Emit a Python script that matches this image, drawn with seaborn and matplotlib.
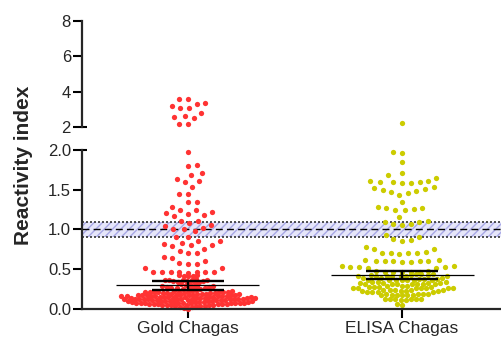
import matplotlib
matplotlib.use("Agg")
import matplotlib.pyplot as plt
from matplotlib.path import Path
from matplotlib.transforms import Affine2D
import pandas as pd
import seaborn as sns

groups = ["Gold Chagas", "ELISA Chagas"]
colors = ["#FF3333", "#CCCC00"]

# reactivity index of each sample
gold_values = [
    3.59, 3.59, 3.36, 3.29, 3.20, 3.05, 3.05, 2.80, 2.62, 2.54, 2.50, 2.17, 2.17,
    1.97, 1.81, 1.80, 1.71, 1.68, 1.64, 1.61, 1.60, 1.54, 1.45, 1.45, 1.35, 1.34, 1.28,
    1.24, 1.24, 1.22, 1.21, 1.19, 1.18, 1.17,
    1.11, 1.11, 1.08, 1.06, 1.05, 1.02, 1.00, 1.00, 0.98,
    0.91, 0.90, 0.86, 0.85, 0.83, 0.82, 0.81, 0.80, 0.79,
    0.76, 0.73, 0.71, 0.70, 0.65, 0.64, 0.61, 0.58, 0.57, 0.56, 0.51, 0.51,
    0.47, 0.46, 0.46, 0.47, 0.45, 0.46, 0.47, 0.46,
    0.43, 0.42, 0.43, 0.41, 0.42,
    0.38, 0.37, 0.36, 0.35, 0.36, 0.34, 0.37, 0.35, 0.33, 0.36, 0.34, 0.32, 0.35, 0.31,
    0.30, 0.29, 0.28, 0.27, 0.29, 0.26, 0.28, 0.25, 0.27, 0.29, 0.24, 0.26, 0.28, 0.25,
    0.23, 0.22, 0.21, 0.20, 0.19, 0.18, 0.22, 0.21, 0.20, 0.19, 0.23, 0.18, 0.21, 0.20,
    0.22, 0.19, 0.18, 0.21, 0.20, 0.23, 0.19, 0.20, 0.22, 0.18, 0.21, 0.19,
    0.17, 0.16, 0.15, 0.14, 0.13, 0.17, 0.16, 0.15, 0.14, 0.13, 0.16, 0.15, 0.17, 0.14,
    0.13, 0.16, 0.15, 0.14, 0.17, 0.13, 0.15, 0.16, 0.14, 0.15, 0.13, 0.16, 0.14, 0.17,
    0.15, 0.14, 0.16, 0.13,
    0.12, 0.11, 0.10, 0.09, 0.08, 0.12, 0.11, 0.10, 0.09, 0.08, 0.11, 0.10, 0.12, 0.09,
    0.08, 0.11, 0.10, 0.09, 0.12, 0.08, 0.10, 0.11, 0.09, 0.10, 0.12, 0.08, 0.09, 0.11,
    0.10, 0.12,
    0.07, 0.06, 0.05, 0.04, 0.07, 0.06, 0.05, 0.04, 0.06, 0.05, 0.07, 0.04, 0.06, 0.05,
    0.07, 0.05, 0.06, 0.04, 0.07, 0.06, 0.05, 0.03,
    0.02, 0.01, 0.00,
]
elisa_values = [
    2.23,
    1.97, 1.96, 1.85, 1.71, 1.68, 1.65,
    1.61, 1.60, 1.60, 1.59, 1.60, 1.61, 1.59,
    1.52, 1.50, 1.47, 1.44, 1.46, 1.49, 1.51, 1.53,
    1.34, 1.28, 1.27, 1.25, 1.26, 1.24, 1.27,
    1.16, 1.10, 1.07, 1.06, 1.07, 1.09, 1.11,
    0.93, 0.90, 0.87, 0.88, 0.86, 0.78,
    0.76, 0.75, 0.71, 0.70, 0.72, 0.70, 0.71, 0.69,
    0.62, 0.61, 0.60, 0.61, 0.59, 0.60, 0.62, 0.61, 0.59,
    0.54, 0.53, 0.52, 0.54, 0.53, 0.52, 0.53,
    0.48, 0.47, 0.46, 0.47, 0.48, 0.46, 0.47,
    0.44, 0.43, 0.42, 0.41, 0.43, 0.42, 0.44, 0.41, 0.42, 0.43, 0.41, 0.42, 0.44,
    0.39, 0.38, 0.37, 0.36, 0.38, 0.37, 0.39, 0.36, 0.37, 0.38, 0.36, 0.39, 0.37,
    0.34, 0.33, 0.32, 0.31, 0.33, 0.32, 0.34, 0.31, 0.32, 0.33, 0.31, 0.34, 0.32, 0.33,
    0.29, 0.28, 0.27, 0.26, 0.28, 0.27, 0.29, 0.26, 0.27, 0.28, 0.26, 0.29, 0.27, 0.28,
    0.24, 0.23, 0.22, 0.24, 0.23, 0.22, 0.24, 0.23, 0.22, 0.24, 0.23, 0.22, 0.24,
    0.19, 0.18, 0.17, 0.19, 0.18, 0.17, 0.19, 0.18, 0.17, 0.19,
    0.13, 0.12, 0.11, 0.13, 0.12, 0.11, 0.12, 0.13,
    0.06, 0.05,
]

# mean and SEM as drawn on the chart
mean_vals = [0.30, 0.43]
sem_vals = [0.058, 0.052]

grey_zone = [0.9, 1.1]
cutoff = 1.0

# below these values the dots are packed tightly, above they are spread out
dense_below = [0.44, 0.45]
dense_spacing = [3.0, 3.6]
sparse_spacing = 6.0
dot_size = 3.8

sns.set_style("ticks")
plt.rcParams["font.family"] = ["Liberation Sans", "DejaVu Sans"]

fig = plt.figure(figsize=(5.01, 3.37), dpi=100)
ax_lo = fig.add_axes([0.1637, 0.0831, 0.8363, 0.4718])
ax_hi = fig.add_axes([0.1637, 0.6231, 0.8363, 0.3154])
ax_hi.patch.set_alpha(0)


def swarm(ax, values, pos, spacing):
    if not values:
        return
    sub = pd.DataFrame({"group": [groups[pos]] * len(values), "value": values})
    n0 = len(ax.collections)
    sns.swarmplot(data=sub, x="group", y="value", order=groups, color=colors[pos],
                  size=spacing, linewidth=0, ax=ax, zorder=2)
    # swarm is laid out with `spacing`, dots are drawn at dot_size
    circle = Path.unit_circle().transformed(Affine2D().scale(0.5 * dot_size / spacing))
    for c in ax.collections[n0:]:
        c.set_clip_on(False)
        c.set_paths([circle])


# grey zone around the cut-off
ax_lo.axhspan(grey_zone[0], grey_zone[1], facecolor="#E6E6FA", edgecolor="#A8A8E6",
              hatch="////", linewidth=0, zorder=0)
for y in grey_zone:
    ax_lo.axhline(y, color="#333333", lw=1.2, ls=(0, (1.2, 1.2)), zorder=1)
ax_lo.axhline(cutoff, color="black", lw=1.0, ls=(0, (5, 3)), zorder=1)

for i, vals in enumerate([gold_values, elisa_values]):
    dense = [v for v in vals if v < dense_below[i]]
    sparse = [v for v in vals if dense_below[i] <= v <= 2.0]
    top = [v for v in vals if v > 2.0]
    swarm(ax_lo, dense, i, dense_spacing[i])
    swarm(ax_lo, sparse, i, sparse_spacing)
    swarm(ax_hi, top, i, sparse_spacing)

# mean line and SEM bars
for i, (m, s) in enumerate(zip(mean_vals, sem_vals)):
    ax_lo.hlines(m, i - 0.334, i + 0.334, color="black", lw=0.9, zorder=3)
    ax_lo.hlines([m - s, m + s], i - 0.17, i + 0.17, color="black", lw=1.7, zorder=3)
    ax_lo.vlines(i, m - s, m + s, color="black", lw=1.7, zorder=3)

xlim = (-0.495, 1.462)
ax_lo.set_xlim(xlim)
ax_lo.set_ylim(0, 2.0)
ax_lo.set_yticks([0, 0.5, 1.0, 1.5, 2.0])
ax_lo.set_yticklabels(["0.0", "0.5", "1.0", "1.5", "2.0"])
ax_lo.set_xticks([0, 1])
ax_lo.set_xticklabels(groups)
ax_lo.set_xlabel("")
ax_lo.set_ylabel("")

ax_hi.set_xlim(xlim)
ax_hi.set_ylim(2, 8)
ax_hi.set_yticks([2, 4, 6, 8])
ax_hi.set_yticklabels(["2", "4", "6", "8"])
ax_hi.set_xlabel("")
ax_hi.set_ylabel("")
ax_hi.set_xticks([])

for ax in (ax_lo, ax_hi):
    for side in ("top", "right"):
        ax.spines[side].set_visible(False)
    ax.spines["left"].set_linewidth(1.6)
    ax.spines["bottom"].set_linewidth(1.6)
    ax.tick_params(axis="both", length=6.5, width=1.5, labelsize=12, pad=1.5, color="black")
ax_hi.spines["bottom"].set_visible(False)
ax_lo.tick_params(axis="x", pad=2, labelsize=12.5)

# break marks on the axis
ax_hi.plot([0, 0.012], [2, 2], transform=ax_hi.get_yaxis_transform(), color="black",
           lw=1.5, clip_on=False, solid_capstyle="butt")
ax_lo.plot([0, 0.012], [2.0, 2.0], transform=ax_lo.get_yaxis_transform(), color="black",
           lw=1.5, clip_on=False, solid_capstyle="butt")

fig.text(0.046, 0.51, "Reactivity index", rotation=90, ha="center", va="center",
         fontsize=15, fontweight="bold")

fig.savefig("out.png", dpi=100)
